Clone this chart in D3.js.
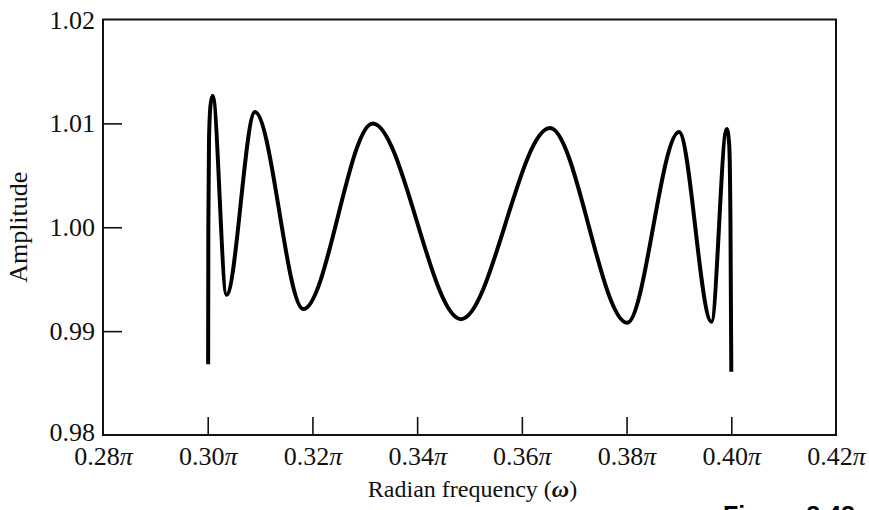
<!DOCTYPE html>
<html><head><meta charset="utf-8">
<script src="https://cdn.jsdelivr.net/npm/d3@7"></script>
<style>body{margin:0;background:#fff}svg{display:block}</style>
</head><body><svg id="c" width="869" height="510"></svg>
<script>
// frequency in units of pi, amplitude
const freq = [0.30008,0.30012,0.30025,0.30055,0.30095,0.30358,0.30903,0.31825,0.33151,0.34837,0.36537,0.38013,0.39001,0.39622,0.39912,0.39960,0.39985,0.40000];
const amp  = [0.98680,1.00000,1.00850,1.01180,1.01265,0.99350,1.01110,0.99212,1.01000,0.99115,1.00955,0.99080,1.00917,0.99091,1.00947,1.00800,1.00000,0.98610];
const xTicks = [0.28,0.30,0.32,0.34,0.36,0.38,0.40,0.42];
const yTicks = [0.98,0.99,1.00,1.01,1.02];

const svg = d3.select("#c");
const L=103, R=836, T=19.5, B=435;
const x = d3.scaleLinear().domain([0.28,0.42]).range([L,R]);
const y = d3.scaleLinear().domain([0.98,1.02]).range([B,T]);
const serif = "'Liberation Serif','Times New Roman',serif";

// frame
svg.append("rect").attr("x",L).attr("y",T).attr("width",R-L).attr("height",B-T)
  .attr("fill","none").attr("stroke","#111").attr("stroke-width",2);

// y axis
const ya = svg.append("g").attr("transform",`translate(${L},0)`)
  .call(d3.axisLeft(y).tickValues(yTicks).tickSizeInner(-19).tickSizeOuter(0).tickPadding(8).tickFormat(d3.format(".2f")));
ya.select(".domain").remove();
ya.selectAll("line").attr("stroke","#111").attr("stroke-width",1.6)
  .filter(d=>d===0.98||d===1.02).remove();
ya.selectAll("text").attr("x",-8).attr("font-family",serif).attr("font-size",26).attr("fill","#111")
  .attr("dy",d=>d===0.98?"0.2em":"0.33em");

// x axis
const xa = svg.append("g").attr("transform",`translate(0,${B})`)
  .call(d3.axisBottom(x).tickValues(xTicks).tickSizeInner(-18).tickSizeOuter(0).tickPadding(0)
    .tickFormat(d=>""));
xa.select(".domain").remove();
xa.selectAll("line").attr("stroke","#111").attr("stroke-width",1.6)
  .filter(d=>d===0.28||d===0.42).remove();
xa.selectAll(".tick text").each(function(d){
  const t=d3.select(this).text(null).attr("y",30).attr("dy",null)
    .attr("font-family",serif).attr("font-size",26).attr("fill","#111");
  t.append("tspan").text(d.toFixed(2));
  t.append("tspan").attr("font-style","italic").text("π");
});

// curve
const pts = freq.map((f,i)=>[f,amp[i]]);
svg.append("path").datum(pts)
  .attr("d", d3.line().x(d=>x(d[0])).y(d=>y(d[1])).curve(d3.curveMonotoneX))
  .attr("fill","none").attr("stroke","#000").attr("stroke-width",4).attr("stroke-linejoin","round");

// labels
svg.append("text").attr("transform",`translate(27,${(T+B)/2}) rotate(-90)`).attr("text-anchor","middle")
  .attr("font-family",serif).attr("font-size",26).attr("fill","#111").text("Amplitude");
const xl = svg.append("text").attr("x",(L+R)/2+3).attr("y",497).attr("text-anchor","middle")
  .attr("font-family",serif).attr("font-size",24).attr("fill","#111");
xl.append("tspan").text("Radian frequency (");
xl.append("tspan").attr("font-style","italic").attr("font-weight","bold").text("ω");
xl.append("tspan").text(")");

svg.append("text").attr("x",723).attr("y",524).attr("font-family","'Liberation Sans',Arial,sans-serif")
  .attr("font-weight","bold").attr("font-size",25).attr("fill","#000").text("Figure 8.48");
</script></body></html>
